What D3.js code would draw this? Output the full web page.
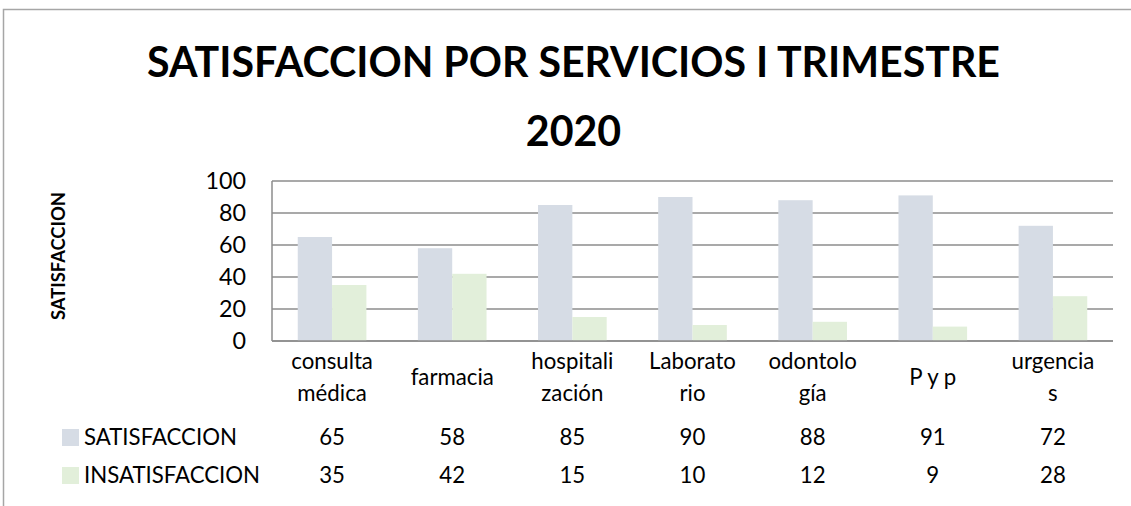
<!DOCTYPE html>
<html>
<head>
<meta charset="utf-8">
<script src="https://cdn.jsdelivr.net/npm/d3@7"></script>
<style>
  body { margin: 0; background: #fff; }
  svg { display: block; }
</style>
</head>
<body>
<svg id="chart" width="1131" height="506"></svg>
<script>
// data
const titleLines = ["SATISFACCION POR SERVICIOS I TRIMESTRE", "2020"];
const yLabel = "SATISFACCION";
const categories = ["consulta\nmédica", "farmacia", "hospitali\nzación", "Laborato\nrio", "odontolo\ngía", "P y p", "urgencia\ns"];
const seriesNames = ["SATISFACCION", "INSATISFACCION"];
const satisfaccion = [65, 58, 85, 90, 88, 91, 72];
const insatisfaccion = [35, 42, 15, 10, 12, 9, 28];
const yTicks = [0, 20, 40, 60, 80, 100];

const seriesColors = ["#d6dce5", "#e2efda"];
const FONT = "Lato, 'Open Sans', sans-serif";

const svg = d3.select("#chart");

// size a font so a string matches the width seen in the picture
function fitSize(str, weight, target) {
  const t = svg.append("text")
    .style("font-family", FONT).style("font-weight", weight)
    .attr("font-size", 100).text(str);
  const w = t.node().getComputedTextLength();
  t.remove();
  return 100 * target / w;
}

const bodySize = fitSize("SATISFACCION", "normal", 153);
const titleSize = fitSize(titleLines[0], "bold", 853);
const yLabSize = fitSize(yLabel, "bold", 128);

// outer frame (only top and left edges are inside the shot)
svg.append("rect")
  .attr("x", 3.5).attr("y", 9.5)
  .attr("width", 1200).attr("height", 600)
  .attr("fill", "none").attr("stroke", "#a6a6a6").attr("stroke-width", 1.5);

// title
svg.selectAll("text.title")
  .data(titleLines)
  .join("text")
    .attr("class", "title")
    .attr("x", 573.5)
    .attr("y", (d, i) => 77 + i * 69)
    .attr("text-anchor", "middle")
    .style("font-family", FONT).style("font-weight", "bold")
    .style("font-size", titleSize + "px")
    .attr("fill", "#000")
    .text(d => d);

// scales
const plot = { left: 272, right: 1113, top: 181, bottom: 341 };

const xScale = d3.scaleBand()
  .domain(categories)
  .range([plot.left, plot.right]);

const sScale = d3.scaleBand()
  .domain(seriesNames)
  .range([0, xScale.bandwidth()])
  .paddingOuter(0.75);

const yScale = d3.scaleLinear()
  .domain([0, 100])
  .range([plot.bottom, plot.top]);

// gridlines
svg.append("g")
  .selectAll("line")
  .data(yTicks)
  .join("line")
    .attr("x1", plot.left).attr("x2", plot.right)
    .attr("y1", d => yScale(d)).attr("y2", d => yScale(d))
    .attr("stroke", "#8c8c8c").attr("stroke-width", 1.5);

// y axis line
svg.append("line")
  .attr("x1", plot.left).attr("x2", plot.left)
  .attr("y1", plot.top).attr("y2", plot.bottom)
  .attr("stroke", "#8c8c8c").attr("stroke-width", 1.5);

// y tick labels
svg.append("g")
  .selectAll("text")
  .data(yTicks)
  .join("text")
    .attr("x", 246)
    .attr("y", d => yScale(d))
    .attr("dy", "0.36em")
    .attr("text-anchor", "end")
    .style("font-family", FONT).style("font-size", (bodySize * 1.05) + "px")
    .attr("fill", "#000")
    .text(d => d);

// y axis title
svg.append("text")
  .attr("transform", `translate(65,256) rotate(-90)`)
  .attr("text-anchor", "middle")
  .style("font-family", FONT).style("font-weight", "bold")
  .style("font-size", yLabSize + "px")
  .attr("fill", "#000")
  .text(yLabel);

// bars
const seriesValues = [satisfaccion, insatisfaccion];
const barData = [];
seriesValues.forEach((vals, s) => {
  vals.forEach((v, i) => barData.push({ cat: categories[i], series: seriesNames[s], s: s, value: v }));
});

svg.append("g")
  .selectAll("rect.bar")
  .data(barData)
  .join("rect")
    .attr("class", "bar")
    .attr("x", d => xScale(d.cat) + sScale(d.series))
    .attr("y", d => yScale(d.value))
    .attr("width", sScale.bandwidth())
    .attr("height", d => yScale(0) - yScale(d.value))
    .attr("fill", d => seriesColors[d.s]);

// redraw the zero line over the bars
svg.append("line")
  .attr("x1", plot.left).attr("x2", plot.right)
  .attr("y1", yScale(0)).attr("y2", yScale(0))
  .attr("stroke", "#8c8c8c").attr("stroke-width", 1.5);

// category labels (data table header)
const catG = svg.append("g")
  .selectAll("text")
  .data(categories)
  .join("text")
    .attr("text-anchor", "middle")
    .style("font-family", FONT).style("font-size", bodySize + "px")
    .attr("fill", "#000");

catG.each(function(d) {
  const lines = d.split("\n");
  const cx = xScale(d) + xScale.bandwidth() / 2;
  d3.select(this).selectAll("tspan")
    .data(lines)
    .join("tspan")
      .attr("x", cx)
      .attr("y", (l, i) => 385 - (lines.length - 1) * 16 + i * 32)
      .text(l => l);
});

// data table rows
const rowY = [445, 483];
seriesNames.forEach((name, s) => {
  svg.append("rect")
    .attr("x", 62).attr("y", rowY[s] - 16)
    .attr("width", 17).attr("height", 17)
    .attr("fill", seriesColors[s]);
  svg.append("text")
    .attr("x", 84).attr("y", rowY[s])
    .style("font-family", FONT).style("font-size", bodySize + "px")
    .attr("fill", "#000")
    .text(name);
  svg.append("g")
    .selectAll("text")
    .data(seriesValues[s])
    .join("text")
      .attr("x", (v, i) => xScale(categories[i]) + xScale.bandwidth() / 2)
      .attr("y", rowY[s])
      .attr("text-anchor", "middle")
      .style("font-family", FONT).style("font-size", bodySize + "px")
      .attr("fill", "#000")
      .text(v => v);
});
</script>
</body>
</html>
